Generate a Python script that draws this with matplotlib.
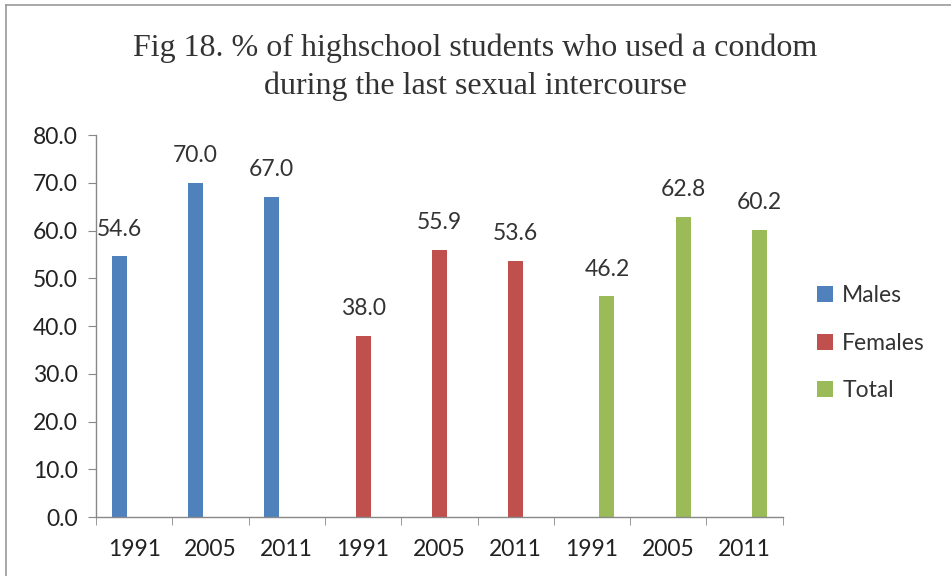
import numpy as np
import matplotlib
matplotlib.use("Agg")
from matplotlib import pyplot as plt
from matplotlib.lines import Line2D

# survey years repeated for each group
years = ["1991", "2005", "2011"]
groups = ["Males", "Females", "Total"]

males = [54.6, 70.0, 67.0]
females = [38.0, 55.9, 53.6]
total = [46.2, 62.8, 60.2]

colors = ["#4F81BD", "#C0504D", "#9BBB59"]

plt.rcParams["font.family"] = ["Lato", "DejaVu Sans"]

fig = plt.figure(figsize=(9.51, 5.76), dpi=100)
ax = fig.add_axes([0.101, 0.1024, 0.722, 0.6632])

labels = years * len(groups)
n_cat = len(labels)
x = np.arange(n_cat)
width = 0.197  # one slot of a three-series cluster

series = [males, females, total]
for i, (name, vals, col) in enumerate(zip(groups, series, colors)):
    full = [np.nan] * n_cat
    full[i * 3:(i + 1) * 3] = vals
    pos = x + (i - 1) * width
    ax.bar(pos, full, width, color=col, label=name)
    for xp, v in zip(pos[i * 3:(i + 1) * 3], vals):
        ax.annotate(f"{v:.1f}", (xp, v), textcoords="offset points",
                    xytext=(0, 12), ha="center", va="bottom",
                    fontsize=16.5, color="#333333")

ax.set_xlim(-0.5, n_cat - 0.5)
ax.set_ylim(0, 80)
ax.set_yticks(np.arange(0, 81, 10))
ax.set_yticklabels([f"{t:.1f}" for t in np.arange(0, 81, 10)])
ax.set_xticks(x)
ax.set_xticklabels(labels)
ax.set_xticks(np.arange(-0.5, n_cat, 1), minor=True)
ax.tick_params(axis="x", which="major", length=0, pad=16)
ax.tick_params(axis="x", which="minor", length=6, color="#888888", direction="out")
ax.tick_params(axis="y", length=6, color="#888888", pad=7)
ax.tick_params(labelsize=16.5, labelcolor="#222222")

for side in ["top", "right"]:
    ax.spines[side].set_visible(False)
for side in ["left", "bottom"]:
    ax.spines[side].set_color("#888888")
    ax.spines[side].set_linewidth(1)

ax.legend(loc="center left", bbox_to_anchor=(1.02, 0.455), frameon=False,
          fontsize=16.5, handlelength=0.7, handleheight=0.7,
          handletextpad=0.4, labelspacing=1.15, labelcolor="#333333")

fig.text(0.5, 0.917, "Fig 18. % of highschool students who used a condom",
         ha="center", va="center", fontsize=23, family="Liberation Serif",
         color="#333333")
fig.text(0.5, 0.851, "during the last sexual intercourse",
         ha="center", va="center", fontsize=23, family="Liberation Serif",
         color="#333333")

# chart area frame (top and left edges)
fig.add_artist(Line2D([0.006, 1.0], [0.991, 0.991], transform=fig.transFigure,
                      color="#999999", lw=1.2))
fig.add_artist(Line2D([0.006, 0.006], [0.0, 0.991], transform=fig.transFigure,
                      color="#999999", lw=1.2))

fig.savefig("out.png", dpi=100)
